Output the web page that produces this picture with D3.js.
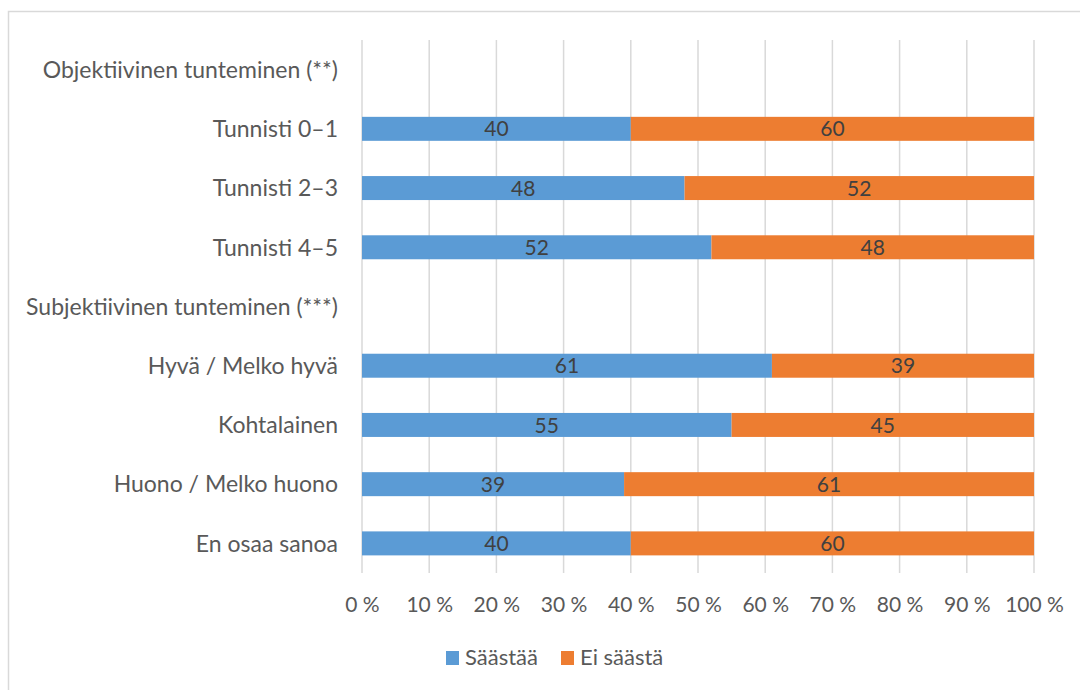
<!DOCTYPE html>
<html>
<head>
<meta charset="utf-8">
<script src="https://cdn.jsdelivr.net/npm/d3@7"></script>
<style>
  html, body { margin: 0; padding: 0; background: #fff; }
  svg { display: block; font-family: Lato, "Open Sans", sans-serif; }
</style>
</head>
<body>
<svg id="chart" width="1080" height="690"></svg>
<script>
// Row labels (group headings have no bars)
const categories = [
  "Objektiivinen tunteminen (**)",
  "Tunnisti 0–1",
  "Tunnisti 2–3",
  "Tunnisti 4–5",
  "Subjektiivinen tunteminen (***)",
  "Hyvä / Melko hyvä",
  "Kohtalainen",
  "Huono / Melko huono",
  "En osaa sanoa"
];
const saastaa   = [null, 40, 48, 52, null, 61, 55, 39, 40];
const eiSaasta  = [null, 60, 52, 48, null, 39, 45, 61, 60];
const seriesNames = ["Säästää", "Ei säästä"];
const seriesColors = ["#5B9BD5", "#ED7D31"];
const tickValues = [0, 10, 20, 30, 40, 50, 60, 70, 80, 90, 100];

const svg = d3.select("#chart");
const margin = { left: 362, right: 46, top: 40, bottom: 117 };
const W = 1080, H = 690;
const FS = 23;

// outer frame
svg.append("rect")
  .attr("x", 8.5).attr("y", 11.5)
  .attr("width", 1100).attr("height", 700)
  .attr("fill", "none").attr("stroke", "#d9d9d9").attr("stroke-width", 1.5);

const x = d3.scaleLinear().domain([0, 100]).range([margin.left, W - margin.right]);
const y = d3.scaleBand().domain(categories)
  .range([margin.top, H - margin.bottom])
  .paddingInner(0.595).paddingOuter(0.2975);

// vertical gridlines
svg.append("g").selectAll("line").data(tickValues).join("line")
  .attr("x1", d => x(d)).attr("x2", d => x(d))
  .attr("y1", margin.top).attr("y2", H - margin.bottom)
  .attr("stroke", "#d9d9d9").attr("stroke-width", 1.5);

// stacked segments
const rows = categories.map((c, i) => ({ cat: c, vals: [saastaa[i], eiSaasta[i]] }));
const segs = [];
rows.forEach(r => {
  if (r.vals[0] == null) return;
  let acc = 0;
  r.vals.forEach((v, k) => {
    segs.push({ cat: r.cat, k, x0: acc, x1: acc + v, v });
    acc += v;
  });
});

svg.append("g").selectAll("rect").data(segs).join("rect")
  .attr("x", d => x(d.x0))
  .attr("width", d => x(d.x1) - x(d.x0))
  .attr("y", d => y(d.cat))
  .attr("height", y.bandwidth())
  .attr("fill", d => seriesColors[d.k]);

svg.append("g").selectAll("text").data(segs).join("text")
  .attr("x", d => (x(d.x0) + x(d.x1)) / 2)
  .attr("y", d => y(d.cat) + y.bandwidth() / 2)
  .attr("dy", "0.36em")
  .attr("text-anchor", "middle")
  .attr("font-size", 21)
  .attr("fill", "#404040")
  .text(d => d.v);

// category axis labels
svg.append("g").selectAll("text").data(categories).join("text")
  .attr("x", margin.left - 24)
  .attr("y", d => y(d) + y.bandwidth() / 2)
  .attr("dy", "0.36em")
  .attr("text-anchor", "end")
  .attr("font-size", FS)
  .attr("fill", "#595959")
  .text(d => d);

// value axis
const xAxis = d3.axisBottom(x).tickValues(tickValues).tickSize(0).tickPadding(0)
  .tickFormat(d => d + " %");
const gx = svg.append("g").attr("transform", `translate(0,${H - margin.bottom})`).call(xAxis);
gx.select(".domain").remove();
gx.selectAll("text")
  .attr("y", 39).attr("dy", "0")
  .attr("font-size", 21).attr("fill", "#595959")
  .attr("font-family", "Lato, sans-serif");

// legend
const legend = svg.append("g").attr("transform", "translate(446,651)");
const legX = [0, 115];
seriesNames.forEach((name, i) => {
  const g = legend.append("g").attr("transform", `translate(${legX[i]},0)`);
  g.append("rect").attr("width", 13).attr("height", 14).attr("fill", seriesColors[i]);
  g.append("text").attr("x", 19).attr("y", 14)
    .attr("font-size", 22).attr("fill", "#595959").text(name);
});
</script>
</body>
</html>
